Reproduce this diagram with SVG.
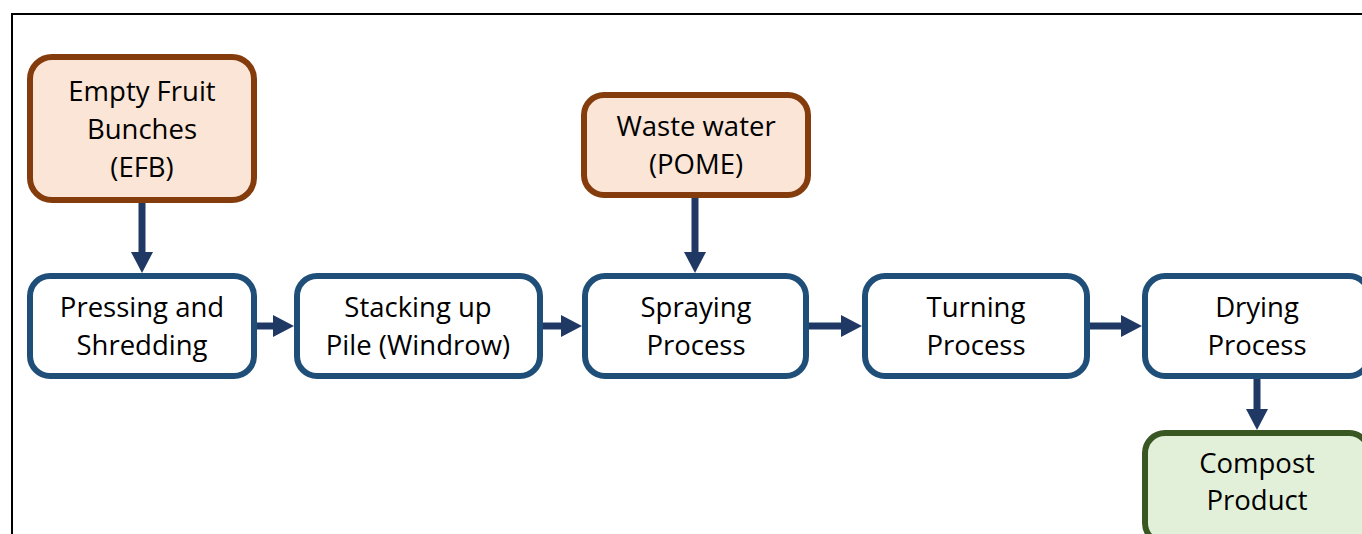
<svg xmlns="http://www.w3.org/2000/svg" width="1362" height="534" viewBox="0 0 1362 534">
  <defs>
    <style>
      .box { stroke-width: 6; }
      .proc { fill: #ffffff; stroke: #1F4E79; }
      .input { fill: #FBE5D6; stroke: #843C0C; }
      .output { fill: #E2F0D9; stroke: #385723; }
      .label { font-family: "Open Sans", "Liberation Sans", sans-serif; font-size: 27.5px; fill: #000000; text-anchor: middle; }
      .shaft { stroke: #203864; stroke-width: 7; fill: none; }
      .head { fill: #203864; }
    </style>
  </defs>

  <rect x="0" y="0" width="1362" height="534" fill="#ffffff"/>
  <!-- outer frame -->
  <path d="M12 534 V14 H1362" fill="none" stroke="#000000" stroke-width="2"/>

  <g id="connectors">
    <!-- EFB -> Pressing -->
    <line class="shaft" x1="142" y1="203" x2="142" y2="254"/>
    <polygon class="head" points="131,252 153,252 142,273"/>
    <!-- POME -> Spraying -->
    <line class="shaft" x1="695" y1="198" x2="695" y2="254"/>
    <polygon class="head" points="684,252 706,252 695,273"/>
    <!-- Pressing -> Stacking -->
    <line class="shaft" x1="257" y1="326" x2="275" y2="326"/>
    <polygon class="head" points="273,315 273,337 294,326"/>
    <!-- Stacking -> Spraying -->
    <line class="shaft" x1="543" y1="326" x2="563" y2="326"/>
    <polygon class="head" points="561,315 561,337 582,326"/>
    <!-- Spraying -> Turning -->
    <line class="shaft" x1="809" y1="326" x2="843" y2="326"/>
    <polygon class="head" points="841,315 841,337 862,326"/>
    <!-- Turning -> Drying -->
    <line class="shaft" x1="1090" y1="326" x2="1123" y2="326"/>
    <polygon class="head" points="1121,315 1121,337 1142,326"/>
    <!-- Drying -> Compost -->
    <line class="shaft" x1="1257" y1="379" x2="1257" y2="411"/>
    <polygon class="head" points="1246,409 1268,409 1257,430"/>
  </g>

  <g id="efb">
    <rect class="box input" x="30" y="57" width="224" height="143" rx="22"/>
    <text class="label" x="142" y="101">Empty Fruit</text>
    <text class="label" x="142" y="139">Bunches</text>
    <text class="label" x="142" y="177">(EFB)</text>
  </g>

  <g id="pome">
    <rect class="box input" x="584" y="95" width="224" height="100" rx="20"/>
    <text class="label" x="696" y="136">Waste water</text>
    <text class="label" x="696" y="174">(POME)</text>
  </g>

  <g id="pressing">
    <rect class="box proc" x="30" y="276" width="224" height="100" rx="20"/>
    <text class="label" x="142" y="317">Pressing and</text>
    <text class="label" x="142" y="355">Shredding</text>
  </g>

  <g id="stacking">
    <rect class="box proc" x="297" y="276" width="243" height="100" rx="20"/>
    <text class="label" x="418" y="317">Stacking up</text>
    <text class="label" x="418" y="355">Pile (Windrow)</text>
  </g>

  <g id="spraying">
    <rect class="box proc" x="585" y="276" width="221" height="100" rx="20"/>
    <text class="label" x="696" y="317">Spraying</text>
    <text class="label" x="696" y="355">Process</text>
  </g>

  <g id="turning">
    <rect class="box proc" x="865" y="276" width="222" height="100" rx="20"/>
    <text class="label" x="976" y="317">Turning</text>
    <text class="label" x="976" y="355">Process</text>
  </g>

  <g id="drying">
    <rect class="box proc" x="1145" y="276" width="224" height="100" rx="20"/>
    <text class="label" x="1257" y="317">Drying</text>
    <text class="label" x="1257" y="355">Process</text>
  </g>

  <g id="compost">
    <rect class="box output" x="1145" y="433" width="224" height="110" rx="20"/>
    <text class="label" x="1257" y="473">Compost</text>
    <text class="label" x="1257" y="510">Product</text>
  </g>
</svg>
